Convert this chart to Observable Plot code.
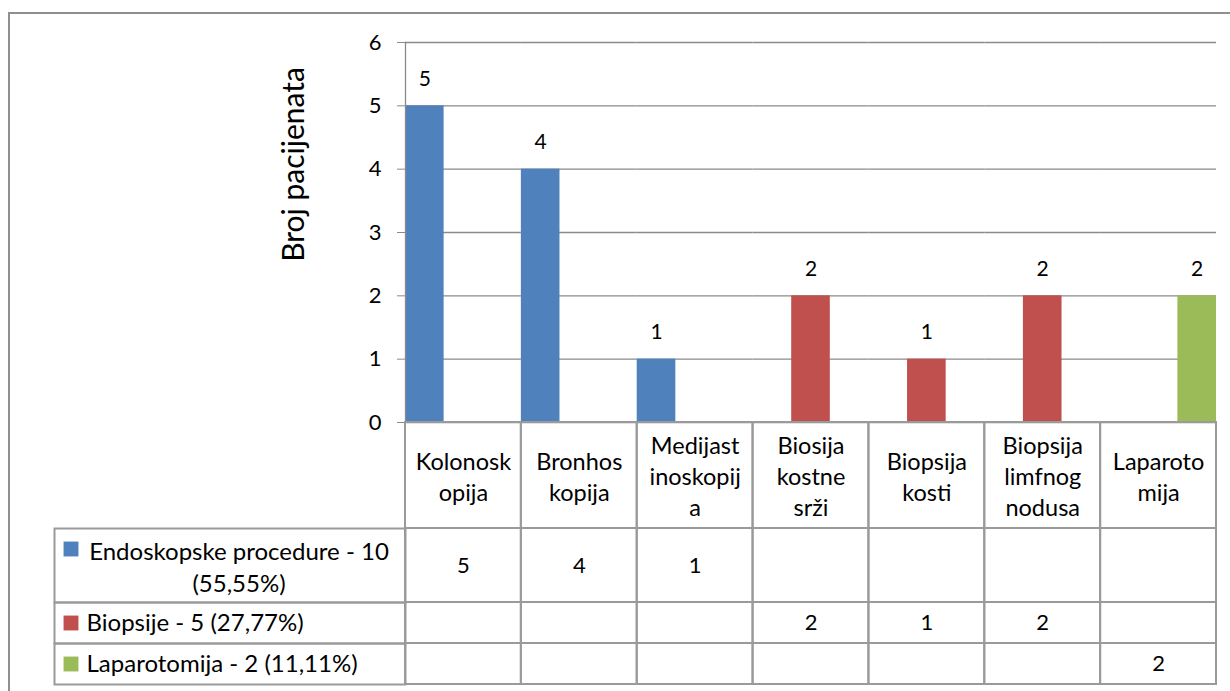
<!DOCTYPE html>
<html>
<head>
<meta charset="utf-8">
<script src="https://cdn.jsdelivr.net/npm/d3@7"></script>
<script src="https://cdn.jsdelivr.net/npm/@observablehq/plot@0.6"></script>
<style>
  html, body { margin: 0; padding: 0; background: #fff; }
  #wrap { position: relative; width: 1230px; height: 691px; overflow: hidden; background: #fff; font-family: Lato, "Open Sans", sans-serif; }
  #frame { position: absolute; left: 8px; top: 12px; width: 1300px; height: 800px; border-left: 2px solid #8f8f8f; border-top: 2px solid #8f8f8f; }
  .abs { position: absolute; }
  .abs svg { background: transparent !important; overflow: visible; }
</style>
</head>
<body>
<div id="wrap"><div id="frame"></div></div>
<script>
// ---- data ----
const categories = ["Kolonoskopija", "Bronhoskopija", "Medijastinoskopija", "Biosija kostne srži", "Biopsija kosti", "Biopsija limfnog nodusa", "Laparotomija"];
const categoryLabels = ["Kolonosk\nopija", "Bronhos\nkopija", "Medijast\ninoskopij\na", "Biosija\nkostne\nsrži", "Biopsija\nkosti", "Biopsija\nlimfnog\nnodusa", "Laparoto\nmija"];
const seriesNames = ["Endoskopske procedure - 10 (55,55%)", "Biopsije - 5 (27,77%)", "Laparotomija - 2 (11,11%)"];
const seriesLegendText = ["Endoskopske procedure - 10\n(55,55%)", "Biopsije - 5 (27,77%)", "Laparotomija - 2 (11,11%)"];
const seriesColors = ["#4F81BD", "#C0504D", "#9BBB59"];
const endoskopske = [5, 4, 1, null, null, null, null];
const biopsije = [null, null, null, 2, 1, 2, null];
const laparotomija = [null, null, null, null, null, null, 2];
const yTicks = [0, 1, 2, 3, 4, 5, 6];
const yTitle = "Broj pacijenata";

// ---- build ----
const seriesValues = [endoskopske, biopsije, laparotomija];
const rows = [];
seriesValues.forEach((vals, si) => vals.forEach((v, ci) => {
  if (v != null) rows.push({category: categories[ci], series: seriesNames[si], value: v});
}));

const FONT = "Lato, 'Open Sans', sans-serif";
const GRID = "#8a8a8a";
const TABLE = "#9a9a9a";
const W = 1230;
const ML = 405, MR = 14;

const wrap = document.getElementById("wrap");
function place(node, left, top) {
  const d = document.createElement("div");
  d.className = "abs";
  d.style.left = left + "px";
  d.style.top = top + "px";
  d.appendChild(node);
  wrap.appendChild(d);
}

// Chart
const chart = Plot.plot({
  width: W, height: 432,
  marginLeft: ML, marginRight: MR, marginTop: 42, marginBottom: 10,
  style: {fontFamily: FONT, background: "transparent", overflow: "visible"},
  fx: {domain: categories, padding: 0, round: false, axis: null, label: null},
  x: {domain: seriesNames, padding: 0, round: false, axis: null},
  y: {domain: [0, 6], axis: null},
  color: {domain: seriesNames, range: seriesColors},
  marks: [
    Plot.ruleY(yTicks, {stroke: GRID, strokeWidth: 1.3}),
    Plot.barY(rows, {fx: "category", x: "series", y: "value", fill: "series"}),
    Plot.text(rows, {fx: "category", x: "series", y: "value", text: d => String(d.value), dy: -27, fontSize: 21, fill: "black"}),
    Plot.axisY({ticks: yTicks, tickSize: 8, tickPadding: 16, fontSize: 22, stroke: GRID, fill: "black", label: null, tickFormat: d => String(d)}),
    Plot.frame({anchor: "left", facetAnchor: "left", stroke: GRID, strokeWidth: 1.3}),
    Plot.text([yTitle], {frameAnchor: "top-left", textAnchor: "middle", lineAnchor: "middle", dx: -111, dy: 122, rotate: -90, fontSize: 30, fill: "black", facetAnchor: "left"})
  ]
});
place(chart, 0, 0);

// Header row of the data table
const headerH = 106;
const header = Plot.plot({
  width: W, height: headerH + 2,
  marginLeft: ML, marginRight: MR, marginTop: 1, marginBottom: 1,
  style: {fontFamily: FONT, background: "transparent", overflow: "visible"},
  x: {domain: categories, padding: 0, round: false, axis: null},
  marks: [
    Plot.cell(categories, {x: d => d, fill: "none", stroke: TABLE, strokeWidth: 2, inset: 0}),
    Plot.text(categories, {x: d => d, text: (d, i) => categoryLabels[i], fontSize: 23.5, lineHeight: 1.32, fill: "black"})
  ]
});
place(header, 0, 422 - 1);

// Data rows
const rowTops = [528, 602, 643];
const rowHeights = [74, 41, 41];
seriesNames.forEach((s, si) => {
  const h = rowHeights[si];
  const vals = seriesValues[si];
  const cellData = categories.map((c, ci) => ({category: c, value: vals[ci]}));
  const valuesPlot = Plot.plot({
    width: W, height: h + 2,
    marginLeft: ML, marginRight: MR, marginTop: 1, marginBottom: 1,
    style: {fontFamily: FONT, background: "transparent", overflow: "visible"},
    x: {domain: categories, padding: 0, round: false, axis: null},
    marks: [
      Plot.cell(cellData, {x: "category", fill: "none", stroke: TABLE, strokeWidth: 2, inset: 0}),
      Plot.text(cellData.filter(d => d.value != null), {x: "category", text: d => String(d.value), fontSize: 22, fill: "black"})
    ]
  });
  place(valuesPlot, 0, rowTops[si] - 1);

  const wrapped = seriesLegendText[si].includes("\n");
  const legendPlot = Plot.plot({
    width: 353, height: h + 2,
    marginLeft: 1, marginRight: 1, marginTop: 1, marginBottom: 1,
    style: {fontFamily: FONT, background: "transparent", overflow: "visible"},
    x: {axis: null}, y: {axis: null},
    marks: [
      Plot.frame({stroke: TABLE, strokeWidth: 2}),
      Plot.dot([s], {frameAnchor: wrapped ? "top-left" : "left", dx: 16.5, dy: wrapped ? 20.5 : 0, symbol: "square", r: 8.4, fill: seriesColors[si], stroke: "none"}),
      wrapped
        ? Plot.text([seriesLegendText[si]], {frameAnchor: "middle", dx: 9, fontSize: 24, lineHeight: 1.33, fill: "black"})
        : Plot.text([seriesLegendText[si]], {frameAnchor: "left", dx: 32, textAnchor: "start", fontSize: 24, fill: "black"})
    ]
  });
  place(legendPlot, 53, rowTops[si] - 1);
});
</script>
</body>
</html>
